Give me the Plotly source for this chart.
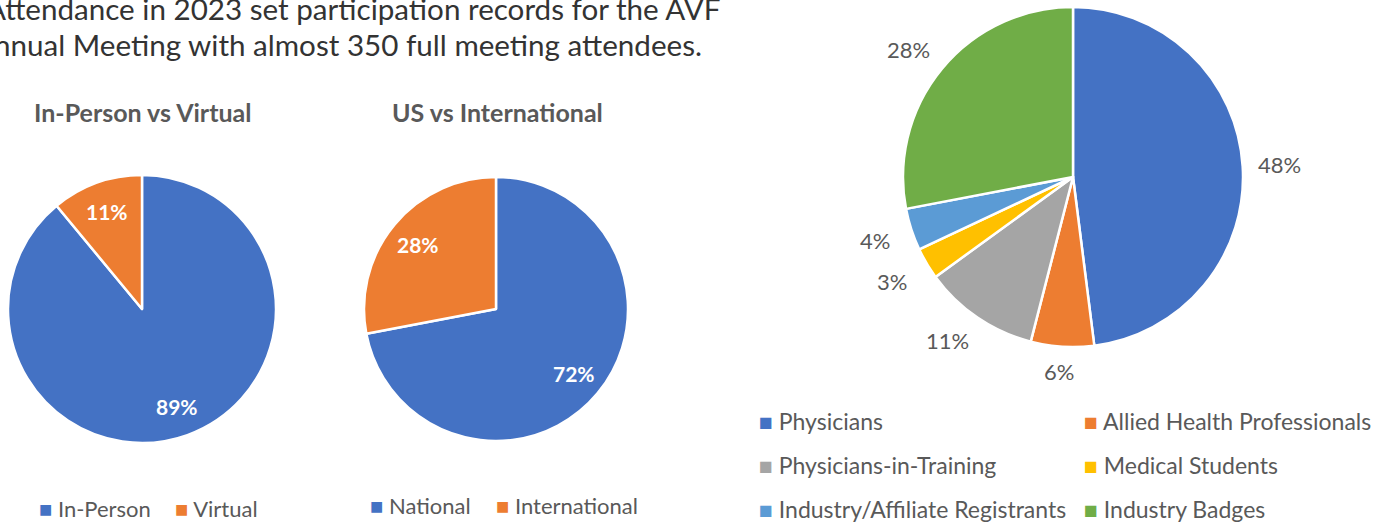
import math
import plotly.graph_objects as go

W, H = 1393, 522

# ---- data ----
mode_labels = ["In-Person", "Virtual"]
mode_values = [89, 11]
region_labels = ["National", "International"]
region_values = [72, 28]
type_labels = ["Physicians", "Allied Health Professionals", "Physicians-in-Training",
               "Medical Students", "Industry/Affiliate Registrants", "Industry Badges"]
type_values = [48, 6, 11, 3, 4, 28]

BLUE, ORANGE, GRAY, GOLD, LBLUE, GREEN = "#4472C4", "#ED7D31", "#A5A5A5", "#FFC000", "#5B9BD5", "#70AD47"
mode_colors = [BLUE, ORANGE]
region_colors = [BLUE, ORANGE]
type_colors = [BLUE, ORANGE, GRAY, GOLD, LBLUE, GREEN]

TXT = "#595959"
FONT = "Lato"


def px(x):
    return x / W


def py(y):
    return 1 - y / H


def dom(cx, cy, r):
    return dict(x=[px(cx - r), px(cx + r)], y=[py(cy + r), py(cy - r)])


# pie geometry (pixels)
P1 = (142, 309, 134)
P2 = (496, 309, 132)
P3 = (1073, 177, 170)

fig = go.Figure()
for (cx, cy, r), labels, values, colors in [
    (P1, mode_labels, mode_values, mode_colors),
    (P2, region_labels, region_values, region_colors),
    (P3, type_labels, type_values, type_colors),
]:
    fig.add_trace(go.Pie(
        labels=labels, values=values, sort=False, direction="clockwise", rotation=0,
        marker=dict(colors=colors, line=dict(color="white", width=2.5)),
        textinfo="none", hoverinfo="label+percent", showlegend=False,
        domain=dom(cx, cy, r),
    ))

annotations = []


def clamp(v):
    return max(-1.0, min(1.0, v))


def pie_labels(geom, values, dist, font, hw=0, hh=0):
    """Place percentage labels along each slice's mid-angle.
    hw/hh shift the label box outward so its edge (not centre) sits at dist."""
    cx, cy, r = geom
    total = sum(values)
    cum = 0
    for v in values:
        mid = (cum + v / 2) / total * 2 * math.pi
        cum += v
        s, c = math.sin(mid), math.cos(mid)
        x = cx + dist * s + hw * clamp(2 * s)
        y = cy - dist * c - hh * clamp(2 * c)
        annotations.append(dict(x=px(x), y=py(y), xref="paper", yref="paper",
                                text=f"{round(v / total * 100)}%", showarrow=False,
                                xanchor="center", yanchor="middle", font=font))


inside_font = dict(family=FONT, size=21, color="white", weight="bold")
pie_labels(P1, mode_values, 0.77 * P1[2], inside_font)
pie_labels(P2, region_values, 0.77 * P2[2], inside_font)
pie_labels(P3, type_values, P3[2] + 15, dict(family=FONT, size=22, color=TXT), hw=22, hh=10)

# titles
for x, t in [(142, "In-Person vs Virtual"), (497, "US vs International")]:
    annotations.append(dict(x=px(x), y=py(112), xref="paper", yref="paper", text=t,
                            showarrow=False, xanchor="center", yanchor="middle",
                            font=dict(family=FONT, size=25, color=TXT, weight="bold")))

# body text (partly cut off at the left/top edge, as in the source page)
BODY = "#333333"
annotations.append(dict(x=px(723), y=py(8), xref="paper", yref="paper",
                        text="Attendance in 2023 set participation records for the AVF",
                        showarrow=False, xanchor="right", yanchor="middle",
                        font=dict(family=FONT, size=29.6, color=BODY)))
annotations.append(dict(x=px(704), y=py(44), xref="paper", yref="paper",
                        text="Annual Meeting with almost 350 full meeting attendees.",
                        showarrow=False, xanchor="right", yanchor="middle",
                        font=dict(family=FONT, size=29.6, color=BODY)))


def legend_item(x, y, label, color, size):
    annotations.append(dict(x=px(x), y=py(y), xref="paper", yref="paper",
                            text=f"<span style='color:{color}'>■</span> {label}",
                            showarrow=False, xanchor="left", yanchor="middle",
                            font=dict(family=FONT, size=size, color=TXT)))


legend_item(37, 508, mode_labels[0], mode_colors[0], 22)
legend_item(173, 508, mode_labels[1], mode_colors[1], 22)
legend_item(368, 505, region_labels[0], region_colors[0], 22)
legend_item(494, 505, region_labels[1], region_colors[1], 22)

cols = [757, 1082]
rows = [421, 465, 509]
for i, (lab, col) in enumerate(zip(type_labels, type_colors)):
    legend_item(cols[i % 2], rows[i // 2], lab, col, 23)

fig.update_layout(
    width=W, height=H, margin=dict(l=0, r=0, t=0, b=0),
    paper_bgcolor="white", plot_bgcolor="white",
    annotations=annotations,
)
fig.write_html("out.html", config={"displayModeBar": False},
               post_script="document.body.style.margin='0';")
